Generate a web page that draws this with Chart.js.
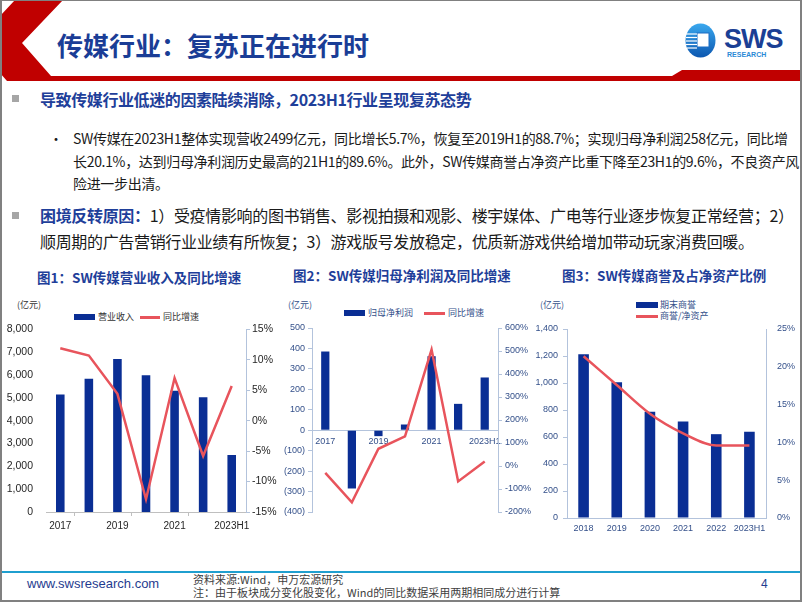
<!DOCTYPE html>
<html><head><meta charset="utf-8">
<script src="https://cdn.jsdelivr.net/npm/chart.js@4.4.0/dist/chart.umd.min.js"></script>
<style>
html,body{margin:0;padding:0;background:#fff;}
#slide{position:relative;width:802px;height:602px;overflow:hidden;font-family:"Noto Sans CJK SC","Noto Sans",sans-serif;color:#1a1a1a;background:#fff;}
.abs{position:absolute;white-space:nowrap;}
.blue{color:#1f3f9a;}
canvas{position:absolute;}
.sq{position:absolute;width:7px;height:7px;background:#a6a6a6;}
.lg{position:absolute;white-space:nowrap;font-size:9px;line-height:14px;}
.ctitle{position:absolute;white-space:nowrap;font-size:13.5px;line-height:18px;font-weight:bold;color:#1f3f9a;}
</style></head>
<body>
<div id="slide">
 <svg class="abs" style="left:0;top:0" width="802" height="90">
  <defs>
   <linearGradient id="lgc" x1="0" y1="0" x2="0" y2="1">
    <stop offset="0" stop-color="#3aa8ee"/><stop offset="1" stop-color="#0c57b0"/>
   </linearGradient>
  </defs>
  <polygon points="15,0 63,0 22,43 51,76 672,76 682,70 802,70 802,81 7,81 0,73 0,16" fill="#c00000"/>
  <ellipse cx="700.5" cy="40.5" rx="15" ry="17" fill="url(#lgc)"/>
  <rect x="697" y="33" width="12" height="14" fill="#fff" stroke="#1b6cc4" stroke-width="1"/>
  <g stroke="#fff" stroke-width="1.2">
   <line x1="686" y1="34" x2="697" y2="34"/><line x1="686" y1="37.5" x2="697" y2="37.5"/>
   <line x1="686" y1="41" x2="697" y2="41"/><line x1="686" y1="44.5" x2="697" y2="44.5"/>
   <line x1="687" y1="48" x2="697" y2="48"/>
  </g>
  <text x="724" y="48" font-family="Liberation Sans, Arial" font-weight="bold" font-size="27" fill="#1b3f94" letter-spacing="-1">SWS</text>
  <text x="727" y="56.5" font-family="Liberation Sans, Arial" font-weight="bold" font-size="7" fill="#2b8ad6">RESEARCH</text>
 </svg>

 <div class="abs blue" style="left:57px;top:30px;font-size:26px;line-height:30px;font-weight:bold;color:#1a3d96;">传媒行业：复苏正在进行时</div>

 <div class="sq" style="left:12px;top:95px;"></div>
 <div class="abs blue" style="left:40px;top:89px;font-size:16px;line-height:20px;font-weight:bold;letter-spacing:-0.4px;">导致传媒行业低迷的因素陆续消除，2023H1行业呈现复苏态势</div>

 <div class="abs" style="left:49px;top:127px;font-size:14px;line-height:22.5px;">•</div>
 <div class="abs" style="left:73px;top:127px;font-size:14px;line-height:22.5px;letter-spacing:-0.32px;">SW传媒在2023H1整体实现营收2499亿元，同比增长5.7%，恢复至2019H1的88.7%；实现归母净利润258亿元，同比增<br>长20.1%，达到归母净利润历史最高的21H1的89.6%。此外，SW传媒商誉占净资产比重下降至23H1的9.6%，不良资产风<br>险进一步出清。</div>

 <div class="sq" style="left:12px;top:212px;"></div>
 <div class="abs" style="left:40px;top:203px;font-size:16px;line-height:25.5px;letter-spacing:-0.33px;"><span class="blue" style="font-weight:bold;">困境反转原因：</span>1）受疫情影响的图书销售、影视拍摄和观影、楼宇媒体、广电等行业逐步恢复正常经营；2）<br>顺周期的广告营销行业业绩有所恢复；3）游戏版号发放稳定，优质新游戏供给增加带动玩家消费回暖。</div>

 <div class="ctitle" style="left:37px;top:268px;">图1：SW传媒营业收入及同比增速</div>
 <div class="ctitle" style="left:293px;top:266px;">图2：SW传媒归母净利润及同比增速</div>
 <div class="ctitle" style="left:562px;top:266px;">图3：SW传媒商誉及占净资产比例</div>

 <div class="lg" style="left:17px;top:298px;color:#333;">(亿元)</div>
 <div class="lg" style="left:288px;top:298px;color:#34508a;">(亿元)</div>
 <div class="lg" style="left:540px;top:298px;color:#34508a;">(亿元)</div>

 <!-- legends -->
 <div class="lg" style="left:74px;top:314px;width:21px;height:6px;background:#0a2e94;"></div>
 <div class="lg" style="left:98px;top:310px;color:#333;">营业收入</div>
 <div class="lg" style="left:140px;top:316px;width:20px;height:2.5px;background:#e8545c;"></div>
 <div class="lg" style="left:163px;top:310px;color:#333;">同比增速</div>

 <div class="lg" style="left:344px;top:310px;width:21px;height:6px;background:#0a2e94;"></div>
 <div class="lg" style="left:368px;top:306px;color:#34508a;">归母净利润</div>
 <div class="lg" style="left:424px;top:312px;width:21px;height:2.5px;background:#e8545c;"></div>
 <div class="lg" style="left:448px;top:306px;color:#34508a;">同比增速</div>

 <div class="lg" style="left:636px;top:302px;width:22px;height:6px;background:#0a2e94;"></div>
 <div class="lg" style="left:660px;top:298px;color:#34508a;">期末商誉</div>
 <div class="lg" style="left:636px;top:315px;width:22px;height:2.5px;background:#e8545c;"></div>
 <div class="lg" style="left:660px;top:309px;color:#34508a;">商誉/净资产</div>

 <canvas id="c1" width="290" height="225" style="left:0px;top:318px;"></canvas>
 <canvas id="c2" width="255" height="225" style="left:280px;top:318px;"></canvas>
 <canvas id="c3" width="265" height="225" style="left:535px;top:318px;"></canvas>

 <!-- footer -->
 <div class="abs" style="left:0;top:571px;width:802px;height:2px;background:#1f9fcf;"></div>
 <div class="abs" style="left:27px;top:576px;font-family:'Liberation Sans',Arial,sans-serif;font-size:13px;line-height:16px;color:#1f3c8f;">www.swsresearch.com</div>
 <div class="abs" style="left:193px;top:572.5px;font-size:11px;line-height:13px;color:#404040;">资料来源:Wind，申万宏源研究<br>注：由于板块成分变化股变化，Wind的同比数据采用两期相同成分进行计算</div>
 <div class="abs" style="left:761px;top:576px;font-family:'Liberation Sans',Arial,sans-serif;font-size:12px;line-height:16px;color:#1f3c8f;">4</div>

 <div style="position:absolute;left:0;top:0;width:802px;height:602px;box-sizing:border-box;border:1px solid #808080;border-left-width:2px;border-right-width:2px;border-bottom-width:2px;pointer-events:none;"></div>
</div>

<script>
// ---- data ----
const years1 = ['2017','2018','2019','2020','2021','2022','2023H1'];
const revenue = [5150, 5830, 6700, 5990, 5310, 5020, 2499];
const revenueYoY = [11.9, 10.7, 4.4, -12.9, 7.0, -5.8, 5.7];

const years2 = ['2017','2018','2019','2020','2021','2022','2023H1'];
const netProfit = [385, -285, -29, 28, 362, 129, 258];
const netProfitYoY = [-30, -158, 75, 129, 506, -67, 20.1];

const years3 = ['2018','2019','2020','2021','2022','2023H1'];
const goodwill = [1213, 1005, 787, 715, 621, 639];
const goodwillRatio = [21.4, 17.6, 13.8, 11.2, 9.6, 9.6];

const BLUE = '#0a2e94';
const RED = '#e8545c';
const AX = '#b3c3dc';

Chart.defaults.font.family = "'Liberation Sans', Arial, sans-serif";
Chart.defaults.animation = false;

const fixW = w => s => { s.width = w; };
const fixH = h => s => { s.height = h; };
const commas = v => Number(v).toLocaleString('en-US');
const pct = v => v + '%';
const everyOther = function (v, i) { return i % 2 === 0 ? this.getLabelForValue(v) : ''; };
const altColor = c => ctx => (ctx.index % 2 === 1 ? c : 'rgba(0,0,0,0)');

const base = {
  responsive: false,
  devicePixelRatio: 1,
  plugins: { legend: { display: false }, tooltip: { enabled: false } },
  events: []
};

// Chart 1
new Chart(document.getElementById('c1'), {
  type: 'bar',
  data: {
    labels: years1,
    datasets: [
      { type: 'line', label: '同比增速', data: revenueYoY, yAxisID: 'y1', borderColor: RED, borderWidth: 2.5, pointRadius: 0, tension: 0, order: 0 },
      { type: 'bar', label: '营业收入', data: revenue, yAxisID: 'y', backgroundColor: BLUE, barPercentage: 1, categoryPercentage: 0.3, order: 1 }
    ]
  },
  options: Object.assign({}, base, {
    layout: { padding: { top: 10, left: 0, right: 0, bottom: 0 } },
    scales: {
      x: {
        grid: { display: true, offset: true, drawOnChartArea: false, drawTicks: true, tickLength: 4, color: altColor('#bfbfbf') },
        border: { display: true, color: '#bfbfbf' },
        ticks: { autoSkip: false, maxRotation: 0, padding: 4, color: '#262626', font: { size: 10 }, callback: everyOther },
        afterFit: fixH(31)
      },
      y: {
        position: 'left', min: 0, max: 8000,
        ticks: { stepSize: 1000, padding: 5, color: '#262626', font: { size: 10.5 }, callback: commas },
        grid: { display: false }, border: { display: false },
        afterFit: fixW(46)
      },
      y1: {
        position: 'right', min: -15, max: 15,
        ticks: { stepSize: 5, padding: 2, color: '#262626', font: { size: 10.5 }, callback: pct },
        grid: { display: true, drawOnChartArea: false, tickLength: 4, color: AX },
        border: { display: true, color: AX },
        afterFit: fixW(44)
      }
    }
  })
});

// Chart 2
new Chart(document.getElementById('c2'), {
  type: 'bar',
  data: {
    labels: years2,
    datasets: [
      { type: 'line', label: '同比增速', data: netProfitYoY, yAxisID: 'y1', borderColor: RED, borderWidth: 2.5, pointRadius: 0, tension: 0, order: 0 },
      { type: 'bar', label: '归母净利润', data: netProfit, yAxisID: 'y', backgroundColor: BLUE, barPercentage: 1, categoryPercentage: 0.31, order: 1 }
    ]
  },
  options: Object.assign({}, base, {
    layout: { padding: { top: 10, left: 0, right: 0, bottom: 31 } },
    scales: {
      x: {
        position: { y: 0 },
        grid: { display: true, offset: true, drawOnChartArea: false, drawTicks: false },
        border: { display: true, color: AX },
        ticks: { autoSkip: false, maxRotation: 0, padding: 6, color: '#34508a', font: { size: 9 }, callback: everyOther }
      },
      y: {
        position: 'left', min: -400, max: 500,
        ticks: { stepSize: 100, padding: 3, color: '#34508a', font: { size: 9 }, callback: v => v < 0 ? '(' + (-v) + ')' : String(v) },
        grid: { display: true, drawOnChartArea: false, tickLength: 4, color: AX },
        border: { display: true, color: AX },
        afterFit: fixW(32)
      },
      y1: {
        position: 'right', min: -200, max: 600,
        ticks: { stepSize: 100, padding: 3, color: '#34508a', font: { size: 9 }, callback: pct },
        grid: { display: true, drawOnChartArea: false, tickLength: 4, color: AX },
        border: { display: true, color: AX },
        afterFit: fixW(37)
      }
    }
  })
});

// Chart 3
new Chart(document.getElementById('c3'), {
  type: 'bar',
  data: {
    labels: years3,
    datasets: [
      { type: 'line', label: '商誉/净资产', data: goodwillRatio, yAxisID: 'y1', borderColor: RED, borderWidth: 2.5, pointRadius: 0, cubicInterpolationMode: 'monotone', order: 0 },
      { type: 'bar', label: '期末商誉', data: goodwill, yAxisID: 'y', backgroundColor: BLUE, barPercentage: 1, categoryPercentage: 0.32, order: 1 }
    ]
  },
  options: Object.assign({}, base, {
    layout: { padding: { top: 11, left: 0, right: 0, bottom: 0 } },
    scales: {
      x: {
        grid: { display: true, offset: true, drawOnChartArea: false, drawTicks: false },
        border: { display: true, color: AX },
        ticks: { autoSkip: false, maxRotation: 0, padding: 5, color: '#34508a', font: { size: 9 } },
        afterFit: fixH(25)
      },
      y: {
        position: 'left', min: 0, max: 1400,
        ticks: { stepSize: 200, padding: 5, color: '#34508a', font: { size: 9 }, callback: commas },
        grid: { display: true, drawOnChartArea: false, tickLength: 4, color: AX },
        border: { display: true, color: AX },
        afterFit: fixW(32)
      },
      y1: {
        position: 'right', min: 0, max: 25,
        ticks: { stepSize: 5, padding: 3, color: '#34508a', font: { size: 9 }, callback: pct },
        grid: { display: false },
        border: { display: true, color: AX },
        afterFit: fixW(34)
      }
    }
  })
});
</script>
</body></html>
